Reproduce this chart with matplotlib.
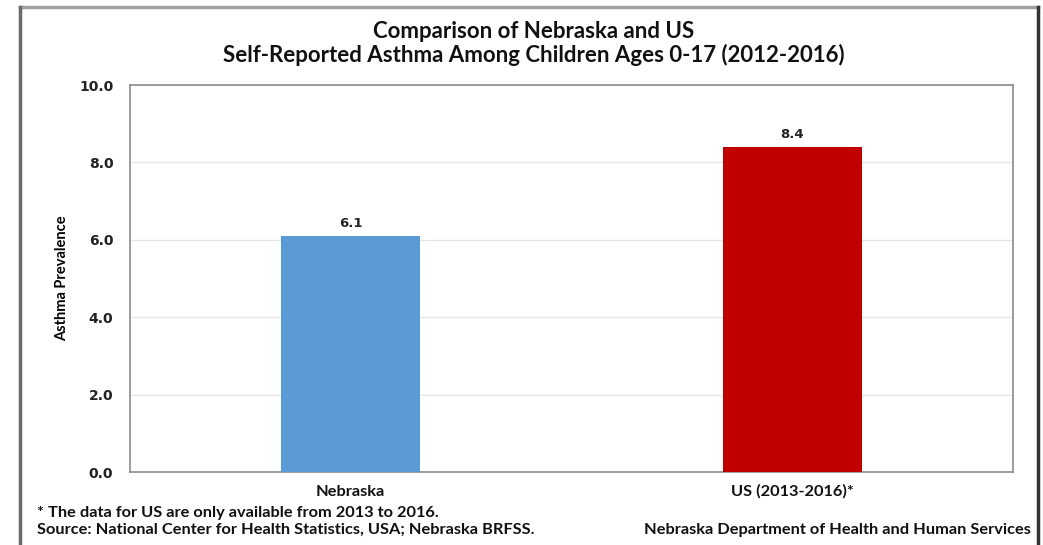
import matplotlib
matplotlib.use('Agg')
import matplotlib.pyplot as plt
from matplotlib.lines import Line2D

categories = ['Nebraska', 'US (2013-2016)*']
prevalence = [6.1, 8.4]
bar_colors = ['#5B9BD5', '#C00000']
yticks = [0, 2, 4, 6, 8, 10]

narrow = ['Lato', 'DejaVu Sans']

fig = plt.figure(figsize=(10.43, 5.45), dpi=100)
ax = fig.add_axes([0.1246, 0.1339, 0.8466, 0.7101])

x = range(len(categories))
ax.bar(x, prevalence, width=0.315, color=bar_colors, linewidth=0, zorder=3)
for xi, v in zip(x, prevalence):
    ax.text(xi, v + 0.15, '%.1f' % v, ha='center', va='bottom',
            fontsize=9.5, fontweight='bold', color='#222222')

ax.set_xlim(-0.5, 1.5)
ax.set_ylim(0, 10)
ax.set_yticks(yticks)
ax.set_yticklabels(['%.1f' % t for t in yticks], fontsize=10,
                   fontweight='bold', color='#222222')
ax.set_xticks(list(x))
ax.set_xticklabels(categories, fontsize=11.8, family=narrow,
                   fontweight='bold', color='#111111')
ax.tick_params(length=0)
ax.tick_params(axis='y', pad=12)
ax.tick_params(axis='x', pad=9)
ax.grid(axis='y', color='#e6e6e6', linewidth=1, zorder=0)
for s in ax.spines.values():
    s.set_color('#8c8c8c')
    s.set_linewidth(1.2)

ax.set_ylabel('Asthma Prevalence', fontsize=10.5, family=narrow,
              fontweight='bold')
ax.yaxis.set_label_coords(-0.069, 0.5)

fig.text(0.512, 0.943, 'Comparison of Nebraska and US', ha='center',
         va='center', fontsize=16, fontweight='bold', family=narrow,
         color='#111111')
fig.text(0.512, 0.900, 'Self-Reported Asthma Among Children Ages 0-17 (2012-2016)',
         ha='center', va='center', fontsize=16, fontweight='bold',
         family=narrow, color='#111111')

fig.text(0.035, 0.058, '* The data for US are only available from 2013 to 2016.',
         ha='left', va='center', fontsize=11.8, fontweight='bold',
         family=narrow, color='#111111')
fig.text(0.035, 0.027, 'Source: National Center for Health Statistics, USA; Nebraska BRFSS.',
         ha='left', va='center', fontsize=11.8, fontweight='bold',
         family=narrow, color='#111111')
fig.text(0.988, 0.027, 'Nebraska Department of Health and Human Services',
         ha='right', va='center', fontsize=11.8, fontweight='bold',
         family=narrow, color='#111111')

# outer frame
fig.add_artist(Line2D([20 / 1043, 1038 / 1043], [1 - 7 / 545, 1 - 7 / 545],
                      transform=fig.transFigure, color='#a0a0a0', lw=2.5))
fig.add_artist(Line2D([20 / 1043, 20 / 1043], [0, 1 - 7 / 545],
                      transform=fig.transFigure, color='#6a6a6a', lw=2.5))
fig.add_artist(Line2D([1038 / 1043, 1038 / 1043], [0, 1 - 7 / 545],
                      transform=fig.transFigure, color='#333333', lw=2.5))

fig.savefig('out.png', dpi=100)
